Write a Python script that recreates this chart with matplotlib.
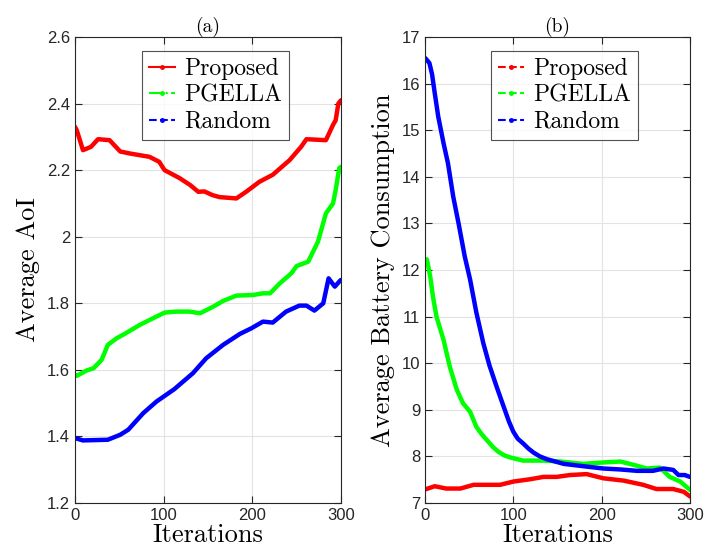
import numpy as np
import matplotlib.pyplot as plt
from matplotlib.lines import Line2D

# (a) Average AoI
aoi_prop_x = [0, 2, 9, 18, 26, 39, 51, 62, 84, 95, 101, 118, 130, 139, 146, 155, 163, 182, 193, 208, 223, 242, 255, 261, 283, 291, 294, 297, 300]
aoi_prop_y = [2.33, 2.32, 2.26, 2.27, 2.293, 2.29, 2.256, 2.25, 2.24, 2.225, 2.2, 2.176, 2.155, 2.135, 2.136, 2.125, 2.119, 2.115, 2.135, 2.165, 2.186, 2.23, 2.27, 2.293, 2.29, 2.336, 2.35, 2.40, 2.41]

aoi_pg_x = [0, 2, 13, 21, 30, 37, 47, 56, 73, 88, 101, 114, 129, 141, 156, 167, 182, 201, 212, 220, 231, 244, 250, 263, 274, 283, 291, 294, 298, 300]
aoi_pg_y = [1.585, 1.582, 1.598, 1.605, 1.63, 1.675, 1.695, 1.708, 1.735, 1.755, 1.772, 1.775, 1.775, 1.77, 1.79, 1.807, 1.823, 1.825, 1.83, 1.83, 1.86, 1.89, 1.912, 1.925, 1.985, 2.07, 2.1, 2.14, 2.206, 2.21]

aoi_rnd_x = [0, 9, 37, 51, 60, 77, 92, 112, 133, 148, 167, 186, 199, 212, 223, 238, 253, 261, 270, 280, 286, 293, 299, 300]
aoi_rnd_y = [1.395, 1.388, 1.39, 1.405, 1.42, 1.47, 1.505, 1.542, 1.59, 1.635, 1.675, 1.708, 1.725, 1.745, 1.742, 1.775, 1.793, 1.793, 1.778, 1.80, 1.875, 1.85, 1.868, 1.87]

# (b) Average Battery Consumption
bat_prop_x = [0, 11, 24, 40, 55, 85, 100, 119, 134, 149, 164, 183, 202, 225, 247, 262, 281, 293, 300]
bat_prop_y = [7.29, 7.36, 7.31, 7.31, 7.39, 7.39, 7.46, 7.51, 7.56, 7.56, 7.60, 7.62, 7.53, 7.48, 7.39, 7.30, 7.30, 7.24, 7.14]

bat_pg_x = [0, 2, 4, 6, 9, 13, 17, 21, 28, 36, 43, 51, 58, 64, 70, 77, 83, 90, 96, 111, 134, 153, 179, 202, 221, 236, 251, 266, 277, 289, 300]
bat_pg_y = [12.2, 12.23, 12.05, 11.85, 11.43, 11.0, 10.75, 10.5, 9.93, 9.43, 9.14, 8.96, 8.64, 8.48, 8.35, 8.2, 8.10, 8.02, 7.98, 7.91, 7.91, 7.89, 7.84, 7.87, 7.89, 7.82, 7.74, 7.76, 7.56, 7.46, 7.28]

bat_rnd_x = [0, 2, 5, 8, 11, 15, 21, 26, 32, 38, 45, 51, 58, 66, 73, 81, 89, 95, 100, 105, 111, 117, 123, 130, 138, 157, 179, 202, 221, 240, 258, 270, 281, 287, 294, 300]
bat_rnd_y = [16.55, 16.51, 16.44, 16.2, 15.8, 15.29, 14.72, 14.29, 13.57, 13.0, 12.29, 11.8, 11.1, 10.43, 9.95, 9.5, 9.07, 8.75, 8.53, 8.38, 8.28, 8.17, 8.08, 8.0, 7.94, 7.84, 7.79, 7.74, 7.72, 7.69, 7.69, 7.74, 7.71, 7.60, 7.60, 7.56]

labels = ['Proposed', 'PGELLA', 'Random']
colors = ['#ff0000', '#00ff00', '#0000ff']

serif = 'cmr10'
plt.rcParams['font.family'] = ['Liberation Sans', 'DejaVu Sans']

fig = plt.figure(figsize=(7.05, 5.56), dpi=100)
ax1 = fig.add_axes([75/705, 53/556, 266/705, 466/556])
ax2 = fig.add_axes([425/705, 53/556, 265/705, 466/556])


def style(ax):
    ax.grid(True, color='#e3e3e3', linewidth=0.8)
    ax.set_axisbelow(True)
    for s in ax.spines.values():
        s.set_color('#262626')
        s.set_linewidth(0.8)
    ax.tick_params(direction='in', top=True, right=True, length=5,
                   labelsize=12, colors='#262626')
    ax.set_xlim(0, 300)
    ax.set_xticks([0, 100, 200, 300])
    ax.set_xlabel('Iterations', family=serif, fontsize=19, labelpad=0)


def add_legend(ax, handles, x0):
    leg = ax.legend(handles, labels, loc='upper left',
                    bbox_to_anchor=(x0/705, 1 - 51/556),
                    bbox_transform=fig.transFigure,
                    prop={'family': serif, 'size': 17},
                    frameon=True, fancybox=False, edgecolor='#262626',
                    borderaxespad=0, handlelength=1.1, handletextpad=0.4,
                    labelspacing=0.18, borderpad=0.3)
    leg.get_frame().set_linewidth(0.8)


# left plot
for xs, ys, c in [(aoi_prop_x, aoi_prop_y, colors[0]),
                  (aoi_pg_x, aoi_pg_y, colors[1]),
                  (aoi_rnd_x, aoi_rnd_y, colors[2])]:
    ax1.plot(xs, ys, '-', color=c, linewidth=3.2, solid_capstyle='round',
             solid_joinstyle='round')
style(ax1)
ax1.set_ylim(1.2, 2.6)
ax1.set_yticks([1.2, 1.4, 1.6, 1.8, 2.0, 2.2, 2.4, 2.6])
ax1.set_yticklabels(['1.2', '1.4', '1.6', '1.8', '2', '2.2', '2.4', '2.6'])
ax1.set_ylabel('Average AoI', family=serif, fontsize=19, labelpad=5)
ax1.set_title('(a)', family=serif, fontsize=14, pad=4)

h1 = [Line2D([], [], color=c, linestyle=ls, marker='.', markersize=5, linewidth=1.5)
      for c, ls in zip(colors, ['-', '-.', '--'])]
add_legend(ax1, h1, 142)

# right plot
for xs, ys, c in [(bat_prop_x, bat_prop_y, colors[0]),
                  (bat_pg_x, bat_pg_y, colors[1]),
                  (bat_rnd_x, bat_rnd_y, colors[2])]:
    ax2.plot(xs, ys, '-', color=c, linewidth=3.2, solid_capstyle='round',
             solid_joinstyle='round')
style(ax2)
ax2.set_ylim(7, 17)
ax2.set_yticks(range(7, 18))
ax2.set_ylabel('Average Battery Consumption', family=serif, fontsize=19, labelpad=5)
ax2.set_title('(b)', family=serif, fontsize=14, pad=4)

h2 = [Line2D([], [], color=c, linestyle='--', marker='.', markersize=5, linewidth=1.5)
      for c in colors]
add_legend(ax2, h2, 491)

fig.savefig('out.png', dpi=100)
